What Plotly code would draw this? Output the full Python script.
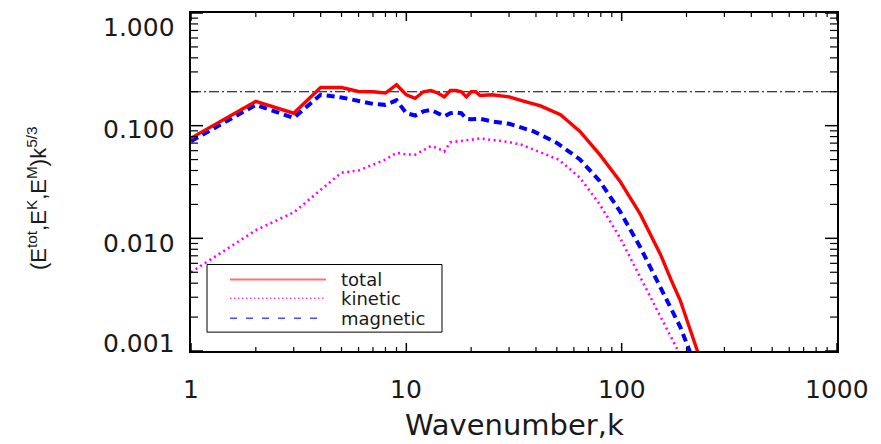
import numpy as np
import plotly.graph_objects as go

# Compensated energy spectra E(k) * k^(5/3)
k_total = [1, 2, 3, 4, 5, 6, 7, 8, 9, 10, 11, 12, 13, 14, 15, 16, 17, 18, 19, 20,
           21, 22, 25, 30, 35, 42, 52, 64, 79, 98, 122, 151, 170, 187, 224, 240]
e_total = [0.0775, 0.164, 0.129, 0.218, 0.218, 0.201, 0.200, 0.195, 0.231, 0.188,
           0.175, 0.200, 0.205, 0.195, 0.180, 0.205, 0.205, 0.200, 0.180, 0.200,
           0.200, 0.185, 0.188, 0.180, 0.165, 0.150, 0.125, 0.089, 0.0556, 0.0323,
           0.0164, 0.00728, 0.00423, 0.00282, 0.00102, 0.00069]

k_kin = [1, 2, 3, 4, 5, 6, 7, 8, 9, 10, 11, 12, 13, 14, 15, 16, 17, 18, 20, 22,
         26, 30, 34, 42, 51, 64, 79, 98, 122, 151, 183, 195]
e_kin = [0.0050, 0.0118, 0.0170, 0.0268, 0.0383, 0.0400, 0.0450, 0.0500, 0.0575,
         0.0555, 0.0553, 0.0610, 0.0660, 0.0630, 0.0590, 0.0713, 0.0720, 0.0730,
         0.0750, 0.0770, 0.0745, 0.0715, 0.0680, 0.0580, 0.0500, 0.0345, 0.0201,
         0.0102, 0.00453, 0.00201, 0.00100, 0.00070]

k_mag = [1, 2, 3, 4, 5, 6, 7, 8, 9, 10, 11, 12, 13, 14, 15, 16, 17, 18, 19, 20,
         22, 25, 30, 39, 50, 64, 79, 98, 122, 151, 187, 206, 220]
e_mag = [0.0728, 0.153, 0.117, 0.188, 0.178, 0.166, 0.156, 0.153, 0.168, 0.129,
         0.123, 0.134, 0.138, 0.129, 0.121, 0.129, 0.131, 0.129, 0.115, 0.114,
         0.115, 0.109, 0.104, 0.089, 0.0703, 0.0502, 0.0323, 0.0175, 0.00834,
         0.0037, 0.00164, 0.00102, 0.00070]

# Kolmogorov reference level
kolmogorov_level = 0.2

x_ticks = [1, 10, 100, 1000]
x_tick_labels = ["1", "10", "100", "1000"]
y_ticks = [1.0, 0.1, 0.01, 0.001]
y_tick_labels = ["1.000", "0.100", "0.010", "0.001"]
legend_names = ["total", "kinetic", "magnetic"]

W, H = 881, 444
L, R, T, B = 191, 837, 11, 351   # plot area in pixels
FONT = "DejaVu Sans"
TXT = "#1a1a1a"
X_RANGE = [0, 3]
Y_RANGE = [-3, 0]


def px_x(p):
    return (p - L) / (R - L)


def px_y(p):
    return (B - p) / (B - T)


def frac_x(v):
    return (np.log10(v) - X_RANGE[0]) / (X_RANGE[1] - X_RANGE[0])


def frac_y(v):
    return (np.log10(v) - Y_RANGE[0]) / (Y_RANGE[1] - Y_RANGE[0])


fig = go.Figure()

fig.add_trace(go.Scatter(x=[x_ticks[0], x_ticks[-1]], y=[kolmogorov_level] * 2,
                         mode="lines",
                         line=dict(color="black", width=1.1, dash="10px,3px,2px,3px")))
fig.add_trace(go.Scatter(x=k_kin, y=e_kin, mode="lines",
                         line=dict(color="#ff00ff", width=2.6, dash="2px,3.5px")))
fig.add_trace(go.Scatter(x=k_mag, y=e_mag, mode="lines",
                         line=dict(color="#0000ff", width=4, dash="8px,5px")))
fig.add_trace(go.Scatter(x=k_total, y=e_total, mode="lines",
                         line=dict(color="#ff0000", width=3.4)))

base = dict(type="log", showgrid=False, zeroline=False, showline=True,
            linecolor="black", linewidth=2, mirror=True, ticks="",
            showticklabels=False)
fig.update_xaxes(**base, range=X_RANGE)
fig.update_yaxes(**base, range=Y_RANGE)

shapes = []

# inward tick marks on all four sides: long at decades, short at digits 2..9
def tick_values(lo_exp, hi_exp):
    vals = []
    for d in range(lo_exp, hi_exp):
        for m in range(1, 10):
            vals.append((m * 10.0 ** d, m == 1))
    vals.append((10.0 ** hi_exp, True))
    return vals


for v, major in tick_values(X_RANGE[0], X_RANGE[1]):
    ln = 8 if major else 4
    wd = 1.5 if major else 1.2
    fx = frac_x(v)
    shapes.append(dict(type="line", xref="paper", yref="paper", ysizemode="pixel",
                       yanchor=0, x0=fx, x1=fx, y0=0, y1=ln,
                       line=dict(color="black", width=wd)))
    shapes.append(dict(type="line", xref="paper", yref="paper", ysizemode="pixel",
                       yanchor=1, x0=fx, x1=fx, y0=0, y1=-ln,
                       line=dict(color="black", width=wd)))

for v, major in tick_values(Y_RANGE[0], Y_RANGE[1]):
    ln = 12 if major else 7
    wd = 1.5 if major else 1.2
    fy = frac_y(v)
    shapes.append(dict(type="line", xref="paper", yref="paper", xsizemode="pixel",
                       xanchor=0, y0=fy, y1=fy, x0=0, x1=ln,
                       line=dict(color="black", width=wd)))
    shapes.append(dict(type="line", xref="paper", yref="paper", xsizemode="pixel",
                       xanchor=1, y0=fy, y1=fy, x0=0, x1=-ln,
                       line=dict(color="black", width=wd)))

annotations = []
# y tick labels (end labels nudged inside the frame)
y_shifts = [-14, -4, -5, 8]
for v, lab, s in zip(y_ticks, y_tick_labels, y_shifts):
    annotations.append(dict(x=0, xref="paper", y=np.log10(v), yref="y", text=lab,
                            showarrow=False, xanchor="right", yanchor="middle",
                            xshift=-14, yshift=s,
                            font=dict(family=FONT, size=25, color=TXT)))
# x tick labels
for v, lab in zip(x_ticks, x_tick_labels):
    annotations.append(dict(x=np.log10(v), xref="x", y=0, yref="paper", text=lab,
                            showarrow=False, xanchor="center", yanchor="middle",
                            yshift=-38, font=dict(family=FONT, size=25, color=TXT)))
# axis titles
annotations.append(dict(x=0.5, xref="paper", y=0, yref="paper", text="Wavenumber,k",
                        showarrow=False, xanchor="center", yanchor="bottom",
                        yshift=-(H - B), font=dict(family=FONT, size=29, color=TXT)))
annotations.append(dict(x=0, xref="paper", y=0.5, yref="paper",
                        text="(E<sup>tot</sup>,E<sup>K</sup>,E<sup>M</sup>)k<sup>5/3</sup>",
                        showarrow=False, textangle=-90, xanchor="center", yanchor="middle",
                        xshift=-154, yshift=-16,
                        font=dict(family="Liberation Sans", size=22, color=TXT)))

# legend box drawn by hand
shapes.append(dict(type="rect", xref="paper", yref="paper",
                   x0=px_x(207), x1=px_x(442), y0=px_y(332), y1=px_y(264),
                   line=dict(color="black", width=1), fillcolor="white", layer="above"))
legend_styles = [dict(color="#ff7070", width=2, dash="solid"),
                 dict(color="#ff40ff", width=1.5, dash="1.5px,2.5px"),
                 dict(color="#4a4aff", width=1.6, dash="7px,9px")]
legend_rows = [279, 298, 318]
for name, st, row in zip(legend_names, legend_styles, legend_rows):
    shapes.append(dict(type="line", xref="paper", yref="paper",
                       x0=px_x(230), x1=px_x(326), y0=px_y(row), y1=px_y(row),
                       line=st, layer="above"))
    annotations.append(dict(x=px_x(340), xref="paper", y=px_y(row), yref="paper",
                            text=name, showarrow=False, xanchor="left", yanchor="middle",
                            borderpad=0,
                            font=dict(family=FONT, size=18, color=TXT)))

fig.update_layout(width=W, height=H, showlegend=False,
                  margin=dict(l=L, r=W - R, t=T, b=H - B, pad=0),
                  plot_bgcolor="white", paper_bgcolor="white",
                  annotations=annotations, shapes=shapes)

fig.write_html("out.html")
